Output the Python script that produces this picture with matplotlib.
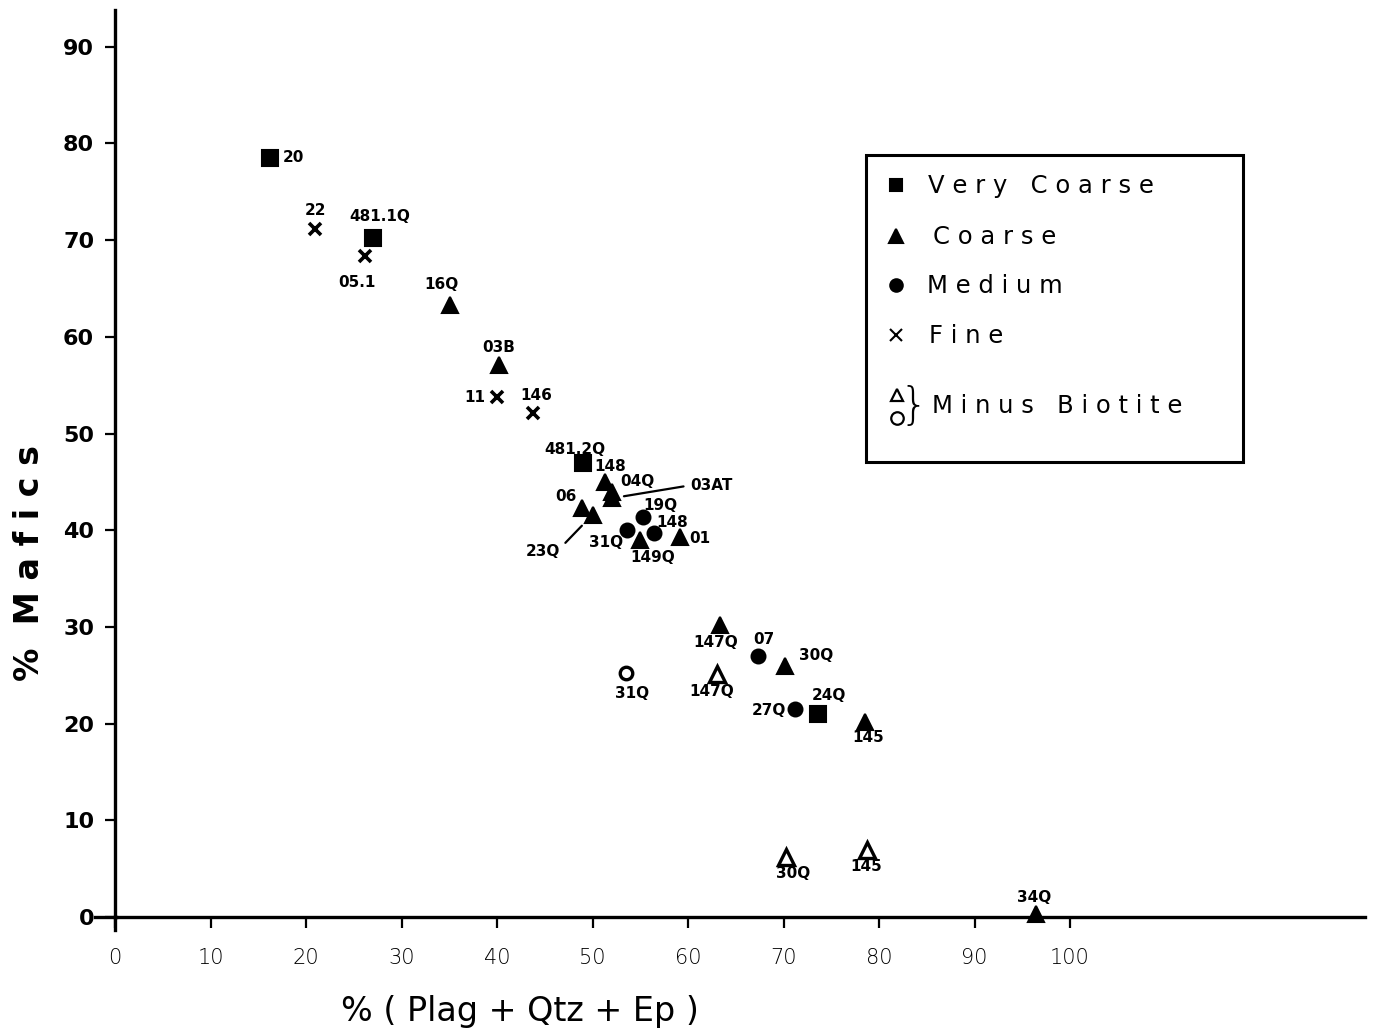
import matplotlib
matplotlib.use("Agg")
import matplotlib.pyplot as plt
from matplotlib.patches import Rectangle

# ---------------- data ----------------
# Very coarse (filled squares)
vc_x = [16.2, 27.0, 49.0, 73.6]
vc_y = [78.5, 70.2, 46.9, 21.0]
vc_lab = ["20", "481.1Q", "481.2Q", "24Q"]

# Coarse (filled triangles)
co_x = [35.1, 40.2, 51.3, 52.0, 52.0, 48.9, 50.0, 55.0, 59.2, 63.4, 70.2, 78.5, 96.4]
co_y = [63.3, 57.1, 45.0, 44.0, 43.3, 42.3, 41.6, 39.0, 39.3, 30.2, 26.0, 20.2, 0.3]
co_lab = ["16Q", "03B", "148", "04Q", "03AT", "06", "23Q", "149Q", "01",
          "147Q", "30Q", "145", "34Q"]

# Medium (filled circles)
me_x = [55.3, 53.6, 56.4, 67.3, 71.2]
me_y = [41.4, 40.0, 39.7, 27.0, 21.5]
me_lab = ["19Q", "31Q", "148", "07", "27Q"]

# Fine (crosses)
fi_x = [20.9, 26.2, 40.0, 43.8]
fi_y = [71.1, 68.4, 53.8, 52.1]
fi_lab = ["22", "05.1", "11", "146"]

# Minus biotite: open triangles (coarse) and open circle (medium)
mbt_x = [63.0, 70.3, 78.7]
mbt_y = [25.1, 6.2, 6.9]
mbt_lab = ["147Q", "30Q", "145"]
mbc_x = [53.5]
mbc_y = [25.2]
mbc_lab = ["31Q"]

x_ticks = [0, 10, 20, 30, 40, 50, 60, 70, 80, 90, 100]
y_ticks = [0, 10, 20, 30, 40, 50, 60, 70, 80, 90]

# ---------------- figure ----------------
W, H = 1383, 1034
fig = plt.figure(figsize=(W / 100, H / 100), dpi=100)
ax_left, ax_right, ax_bottom, ax_top = 115, 1365, 917, 10
ax = fig.add_axes([ax_left / W, 1 - ax_bottom / H,
                   (ax_right - ax_left) / W, (ax_bottom - ax_top) / H])
ax.set_xlim(0, (ax_right - ax_left) / 9.55)
ax.set_ylim(0, (ax_bottom - ax_top) / 9.67)

for s in ["top", "right"]:
    ax.spines[s].set_visible(False)
for s in ["left", "bottom"]:
    ax.spines[s].set_linewidth(2.4)
    ax.spines[s].set_color("black")

ax.set_xticks(x_ticks)
ax.set_xticklabels([str(t) for t in x_ticks], fontsize=15, family="DejaVu Sans",
                   fontweight="light")
ax.set_yticks(y_ticks)
ax.set_yticklabels([str(t) for t in y_ticks], fontsize=16, family="DejaVu Sans",
                   fontweight="bold")
ax.tick_params(axis="x", direction="out", length=8, width=1.6, pad=14)
ax.tick_params(axis="y", direction="out", length=7, width=1.6, pad=8)


def fx(px):
    return px / W


def fy(py):
    return 1 - py / H


# small overshoot of the hand-drawn axes
fig.lines.append(plt.Line2D([fx(95), fx(116)], [fy(917), fy(917)], lw=2.4,
                            color="black", transform=fig.transFigure))
fig.lines.append(plt.Line2D([fx(115), fx(115)], [fy(917), fy(930)], lw=2.4,
                            color="black", transform=fig.transFigure))

lab_font = dict(fontsize=11, fontweight="bold", family="DejaVu Sans",
                ha="center", va="center")


def pts(xs, ys, marker, ms, face="black", mew=1.5):
    ax.plot(xs, ys, linestyle="none", marker=marker, markersize=ms,
            markerfacecolor=face, markeredgecolor="black", markeredgewidth=mew,
            clip_on=False, zorder=3)


pts(vc_x, vc_y, "s", 11)
pts(co_x, co_y, "^", 12)
pts(me_x, me_y, "o", 10)
pts(fi_x, fi_y, "x", 9, mew=2.6)
pts(mbt_x, mbt_y, "^", 11, face="white", mew=2.4)
pts(mbc_x, mbc_y, "o", 9, face="white", mew=2.4)

# label offsets in pixels (dx right, dy up)
off_vc = [(24, 0), (7, 22), (-8, 14), (11, 18)]
off_co = [(-9, 20), (0, 17), (5, 15), (26, 10), (100, 13), (-16, 11), (-50, -37),
          (12, -18), (19, -2), (-5, -18), (31, 10), (4, -16), (-1, 17)]
off_me = [(17, 11), (-21, -12), (19, 11), (6, 16), (-26, -1)]
off_fi = [(1, 19), (-8, -27), (-22, -1), (3, 18)]
off_mbt = [(-5, -17), (7, -16), (0, -16)]
off_mbc = [(6, -20)]


def labels(xs, ys, labs, offs):
    for x, y, t, o in zip(xs, ys, labs, offs):
        kw = {}
        if t == "03AT":
            kw["arrowprops"] = dict(arrowstyle="-", lw=1.6, color="black",
                                    relpos=(0.0, 0.5), shrinkA=3, shrinkB=9)
        if t == "23Q":
            kw["arrowprops"] = dict(arrowstyle="-", lw=1.6, color="black",
                                    relpos=(1.0, 0.7), shrinkA=3, shrinkB=11)
        ax.annotate(t, (x, y), xytext=o, textcoords="offset pixels",
                    annotation_clip=False, **lab_font, **kw)


labels(vc_x, vc_y, vc_lab, off_vc)
labels(co_x, co_y, co_lab, off_co)
labels(me_x, me_y, me_lab, off_me)
labels(fi_x, fi_y, fi_lab, off_fi)
labels(mbt_x, mbt_y, mbt_lab, off_mbt)
labels(mbc_x, mbc_y, mbc_lab, off_mbc)

# axis titles
fig.text(520 / W, 1 - 1012 / H, "% ( Plag + Qtz + Ep )", fontsize=24,
         ha="center", va="center", family="DejaVu Sans")
fig.text(30 / W, 1 - 563 / H, "%  M a f i c s", fontsize=24, rotation=90,
         ha="center", va="center", family="DejaVu Sans", fontweight="bold")

# ---------------- legend (hand-drawn box) ----------------
fig.patches.append(Rectangle((fx(866), fy(462)), fx(1243) - fx(866),
                             fy(155) - fy(462), transform=fig.transFigure,
                             fill=False, edgecolor="black", linewidth=2.2))

leg_items = [("s", 9, "black", "V e r y   C o a r s e", 185, 928),
             ("^", 10, "black", "C o a r s e", 236, 933),
             ("o", 9, "black", "M e d i u m", 285, 927),
             ("x", 8, "black", "F i n e", 335, 929)]
for m, ms, fc, txt, py, tx in leg_items:
    fig.lines.append(plt.Line2D([fx(896)], [fy(py)], marker=m, markersize=ms,
                                markerfacecolor=fc, markeredgecolor="black",
                                markeredgewidth=1.5, transform=fig.transFigure))
    fig.text(fx(tx), fy(py + 1), txt, fontsize=17.5, ha="left", va="center",
             family="DejaVu Sans")

fig.lines.append(plt.Line2D([fx(897)], [fy(395)], marker="^", markersize=9,
                            markerfacecolor="white", markeredgecolor="black",
                            markeredgewidth=1.6, transform=fig.transFigure))
fig.lines.append(plt.Line2D([fx(897)], [fy(418)], marker="o", markersize=9,
                            markerfacecolor="white", markeredgecolor="black",
                            markeredgewidth=1.6, transform=fig.transFigure))
fig.text(fx(914), fy(406), "}", fontsize=32, ha="center", va="center",
         family="DejaVu Sans", fontweight="light")
fig.text(fx(932), fy(406), "M i n u s   B i o t i t e", fontsize=17.5,
         ha="left", va="center", family="DejaVu Sans")

fig.savefig("out.png", dpi=100, facecolor="white")
